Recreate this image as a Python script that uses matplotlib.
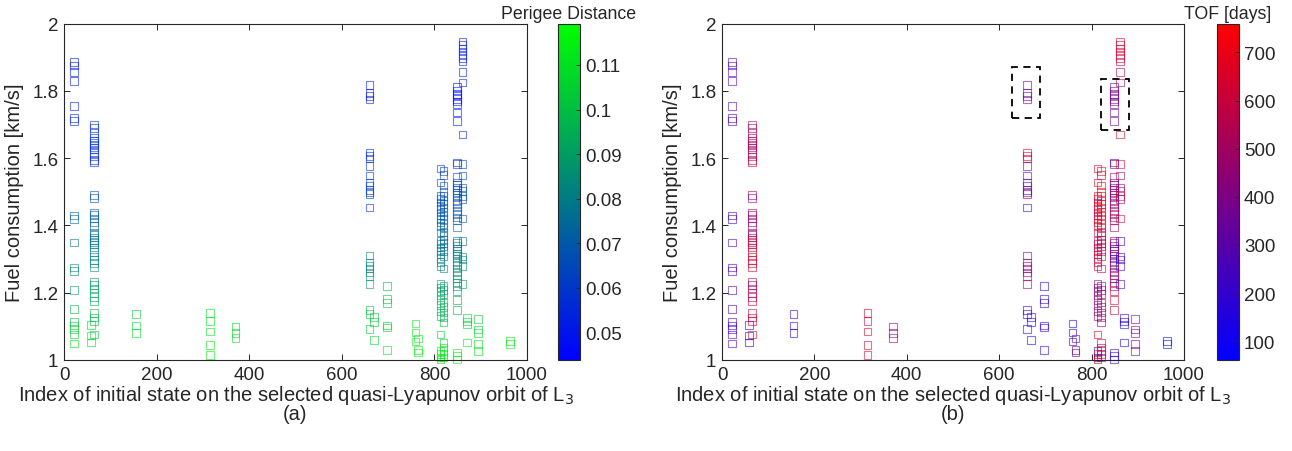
#!/usr/bin/env python3
"""Fuel consumption vs initial-state index, coloured by perigee distance (a) and TOF (b).

    python3 plot.py   ->  out.png
"""
import matplotlib
matplotlib.use("Agg")
import matplotlib.pyplot as plt
from matplotlib.cm import ScalarMappable
from matplotlib.colors import LinearSegmentedColormap, Normalize
from matplotlib.patches import Rectangle

# index of the initial state for each column of solutions
cols = [22, 58, 65, 155, 315, 370, 660, 669, 697, 759, 765,
        813, 820, 849, 861, 870, 894, 963]

# fuel consumption [km/s], one list per column
fuel_by_col = [
    [1.885, 1.875, 1.855, 1.830, 1.754, 1.720, 1.711, 1.429, 1.419, 1.349,
     1.275, 1.265, 1.208, 1.151, 1.113, 1.103, 1.093, 1.076, 1.049],
    [1.104, 1.073, 1.052],
    [1.700, 1.690, 1.675, 1.660, 1.652, 1.645, 1.640, 1.632, 1.625, 1.615,
     1.605, 1.595, 1.588, 1.490, 1.482, 1.438, 1.431, 1.421, 1.411, 1.399,
     1.379, 1.371, 1.364, 1.357, 1.351, 1.343, 1.334, 1.321, 1.308, 1.298,
     1.288, 1.275, 1.232, 1.222, 1.212, 1.200, 1.188, 1.176, 1.139, 1.126,
     1.116, 1.076],
    [1.136, 1.103, 1.081],
    [1.140, 1.115, 1.085, 1.045, 1.015],
    [1.100, 1.080, 1.065],
    [1.818, 1.794, 1.784, 1.774, 1.617, 1.607, 1.599, 1.577, 1.548, 1.528,
     1.518, 1.506, 1.500, 1.493, 1.453, 1.311, 1.290, 1.280, 1.272, 1.260,
     1.250, 1.225, 1.149, 1.136, 1.093],
    [1.128, 1.113, 1.060],
    [1.220, 1.181, 1.169, 1.103, 1.096, 1.029],
    [1.108, 1.082, 1.055],
    [1.064, 1.030, 1.022],
    [1.569, 1.528, 1.488, 1.478, 1.468, 1.458, 1.448, 1.438, 1.429, 1.419,
     1.409, 1.399, 1.379, 1.354, 1.344, 1.334, 1.324, 1.314, 1.304, 1.292,
     1.278, 1.225, 1.215, 1.205, 1.192, 1.179, 1.163, 1.146, 1.131, 1.076,
     1.027, 1.017, 1.007, 1.002],
    [1.562, 1.549, 1.518, 1.500, 1.488, 1.473, 1.463, 1.453, 1.440, 1.429,
     1.419, 1.404, 1.394, 1.379, 1.369, 1.357, 1.347, 1.337, 1.324, 1.307,
     1.272, 1.220, 1.208, 1.196, 1.171, 1.158, 1.141, 1.126, 1.111, 1.052,
     1.037, 1.027, 1.017, 1.007],
    [1.811, 1.801, 1.791, 1.786, 1.776, 1.768, 1.761, 1.736, 1.711,
     1.587, 1.582, 1.543, 1.528, 1.520, 1.513, 1.506, 1.498, 1.490, 1.483,
     1.473, 1.463, 1.453, 1.443, 1.434, 1.424, 1.414, 1.394,
     1.354, 1.347, 1.339, 1.331, 1.324, 1.317, 1.310, 1.302, 1.292, 1.282,
     1.272, 1.262, 1.252, 1.242, 1.230, 1.220, 1.205, 1.179, 1.149,
     1.022, 1.012, 1.002],
    [1.946, 1.936, 1.926, 1.917, 1.907, 1.897, 1.887, 1.855, 1.825, 1.670,
     1.582, 1.548, 1.513, 1.503, 1.488, 1.478, 1.421, 1.354, 1.307, 1.299,
     1.280, 1.225],
    [1.124, 1.114, 1.106, 1.052],
    [1.121, 1.091, 1.081, 1.047, 1.027],
    [1.057, 1.047],
]

# perigee distance, one list per column
perigee_by_col = [
    [0.050, 0.050, 0.051, 0.051, 0.052, 0.053, 0.053, 0.071, 0.072, 0.078,
     0.084, 0.085, 0.090, 0.097, 0.102, 0.103, 0.105, 0.107, 0.110],
    [0.105, 0.108, 0.110],
    [0.058, 0.057, 0.056, 0.058, 0.057, 0.058, 0.059, 0.058, 0.057, 0.056,
     0.056, 0.055, 0.055, 0.066, 0.066, 0.069, 0.069, 0.070, 0.071, 0.072,
     0.074, 0.075, 0.076, 0.077, 0.077, 0.078, 0.079, 0.080, 0.081, 0.082,
     0.083, 0.084, 0.088, 0.089, 0.090, 0.091, 0.092, 0.093, 0.097, 0.098,
     0.099, 0.104],
    [0.106, 0.108, 0.109],
    [0.110, 0.111, 0.112, 0.113, 0.114],
    [0.107, 0.108, 0.109],
    [0.050, 0.050, 0.051, 0.051, 0.055, 0.056, 0.056, 0.058, 0.059, 0.060,
     0.061, 0.062, 0.063, 0.064, 0.057, 0.079, 0.081, 0.082, 0.083, 0.084,
     0.085, 0.088, 0.100, 0.102, 0.104],
    [0.103, 0.104, 0.108],
    [0.096, 0.099, 0.100, 0.104, 0.105, 0.109],
    [0.112, 0.113, 0.114],
    [0.113, 0.114, 0.115],
    [0.060, 0.061, 0.063, 0.064, 0.065, 0.066, 0.067, 0.068, 0.068, 0.069,
     0.070, 0.071, 0.072, 0.074, 0.075, 0.076, 0.077, 0.078, 0.079, 0.080,
     0.081, 0.088, 0.089, 0.090, 0.091, 0.092, 0.093, 0.094, 0.095, 0.105,
     0.112, 0.113, 0.114, 0.115],
    [0.062, 0.063, 0.065, 0.066, 0.066, 0.067, 0.068, 0.069, 0.069, 0.070,
     0.071, 0.071, 0.072, 0.073, 0.074, 0.075, 0.076, 0.077, 0.078, 0.080,
     0.083, 0.089, 0.090, 0.091, 0.093, 0.094, 0.095, 0.096, 0.098, 0.107,
     0.110, 0.112, 0.113, 0.114],
    [0.047, 0.048, 0.046, 0.047, 0.046, 0.048, 0.049, 0.050, 0.051,
     0.060, 0.061, 0.063, 0.064, 0.064, 0.065, 0.065, 0.066, 0.066, 0.067,
     0.067, 0.068, 0.068, 0.069, 0.069, 0.070, 0.070, 0.072,
     0.077, 0.078, 0.078, 0.079, 0.079, 0.080, 0.080, 0.081, 0.082, 0.083,
     0.083, 0.084, 0.085, 0.086, 0.087, 0.088, 0.090, 0.092, 0.096,
     0.114, 0.115, 0.116],
    [0.050, 0.050, 0.051, 0.050, 0.051, 0.052, 0.052, 0.052, 0.053, 0.055,
     0.061, 0.063, 0.065, 0.066, 0.067, 0.067, 0.070, 0.078, 0.083, 0.084,
     0.085, 0.090],
    [0.104, 0.105, 0.106, 0.110],
    [0.106, 0.108, 0.109, 0.112, 0.113],
    [0.113, 0.114],
]

# time of flight [days], one list per column
tof_by_col = [
    [260, 250, 280, 250, 260, 250, 240, 230, 220, 250,
     240, 230, 270, 250, 230, 220, 240, 260, 250],
    [150, 170, 140],
    [520, 540, 500, 560, 540, 510, 530, 480, 520, 500,
     540, 560, 580, 470, 450, 480, 500, 460, 520, 450,
     450, 480, 430, 620, 600, 580, 640, 620, 650, 600,
     640, 630, 480, 520, 500, 540, 560, 600, 640, 630,
     650, 680],
    [170, 160, 180],
    [640, 620, 650, 630, 660],
    [430, 450, 420],
    [330, 320, 340, 330, 600, 620, 610, 280, 300, 260,
     250, 320, 500, 280, 260, 380, 420, 460, 440, 430,
     470, 480, 200, 180, 160],
    [170, 190, 150],
    [170, 180, 160, 190, 170, 180],
    [140, 150, 130],
    [380, 360, 350],
    [680, 700, 660, 700, 380, 720, 700, 680, 250, 720,
     700, 650, 600, 560, 540, 620, 580, 600, 650, 560,
     600, 420, 440, 400, 450, 430, 460, 420, 440, 720,
     200, 680, 220, 700],
    [650, 640, 680, 700, 660, 640, 700, 680, 690, 720,
     660, 600, 640, 560, 580, 540, 520, 560, 550, 540,
     560, 450, 440, 470, 460, 420, 480, 430, 440, 540,
     500, 560, 480, 450],
    [360, 380, 340, 400, 370, 350, 380, 340, 360,
     300, 320, 560, 420, 380, 450, 400, 520, 440, 380,
     460, 420, 480, 520, 500, 540, 460, 500,
     620, 380, 440, 480, 220, 500, 420, 200, 460, 380,
     520, 440, 480, 400, 560, 460, 600, 640, 620,
     180, 200, 160],
    [640, 620, 660, 600, 640, 620, 580, 520, 500, 620,
     680, 440, 540, 520, 640, 500, 650, 200, 210, 190,
     200, 220],
    [150, 160, 140, 150],
    [380, 420, 400, 360, 370],
    [120, 130],
]

# dashed boxes highlighted in panel (b): (x0, x1, y0, y1)
boxes = [(627, 689, 1.718, 1.870), (821, 882, 1.684, 1.835)]

index, fuel, perigee, tof = [], [], [], []
for c, f, p, t in zip(cols, fuel_by_col, perigee_by_col, tof_by_col):
    index += [c] * len(f)
    fuel += f
    perigee += p
    tof += t

plt.rcParams["font.family"] = ["Liberation Sans", "DejaVu Sans"]
plt.rcParams["text.color"] = "0.15"
plt.rcParams["axes.labelcolor"] = "0.15"
plt.rcParams["xtick.color"] = "0.15"
plt.rcParams["ytick.color"] = "0.15"

blue_green = LinearSegmentedColormap.from_list("bg", ["#0000ff", "#00ff00"])
blue_red = LinearSegmentedColormap.from_list("br", ["#0000ff", "#ff0000"])

fig = plt.figure(figsize=(12.92, 4.52), dpi=100)
W, H = 1292, 452
ax_a = fig.add_axes([64 / W, 1 - 361 / H, 463 / W, 336.5 / H])
cb_a = fig.add_axes([558 / W, 1 - 361 / H, 22 / W, 336.5 / H])
ax_b = fig.add_axes([722 / W, 1 - 361 / H, 462 / W, 336.5 / H])
cb_b = fig.add_axes([1217 / W, 1 - 361 / H, 22 / W, 336.5 / H])

panels = [
    (ax_a, cb_a, perigee, blue_green, (0.0438, 0.1193), [0.05, 0.06, 0.07, 0.08, 0.09, 0.1, 0.11],
     ["0.05", "0.06", "0.07", "0.08", "0.09", "0.1", "0.11"], "Perigee Distance", "(a)"),
    (ax_b, cb_b, tof, blue_red, (61, 760), [100, 200, 300, 400, 500, 600, 700],
     ["100", "200", "300", "400", "500", "600", "700"], "TOF [days]", "(b)"),
]

for ax, cax, cval, cmap, clim, cticks, clabels, ctitle, tag in panels:
    norm = Normalize(vmin=clim[0], vmax=clim[1])
    edge = cmap(norm(cval))
    ax.scatter(index, fuel, marker="s", s=30, facecolors="none",
               edgecolors=edge, linewidths=0.8, alpha=0.55, clip_on=False)
    ax.set_xlim(0, 1000)
    ax.set_ylim(1, 2)
    ax.set_xticks([0, 200, 400, 600, 800, 1000])
    ax.set_yticks([1, 1.2, 1.4, 1.6, 1.8, 2])
    ax.set_yticklabels(["1", "1.2", "1.4", "1.6", "1.8", "2"])
    ax.tick_params(direction="in", top=True, right=True, length=4,
                   width=0.7, labelsize=13.5, pad=4)
    for s in ax.spines.values():
        s.set_color("0.15")
        s.set_linewidth(0.8)
    ax.set_ylabel("Fuel consumption [km/s]", fontsize=14.5, labelpad=6)
    ax.set_xlabel("Index of initial state on the selected quasi-Lyapunov orbit of L$_3$",
                  fontsize=14.5, labelpad=0)
    ax.text(0.5, 1 - (415 - 24.5) / 336.5, tag, transform=ax.transAxes,
            ha="center", va="center", fontsize=14.5)

    sm = ScalarMappable(norm=norm, cmap=cmap)
    cb = fig.colorbar(sm, cax=cax)
    cb.set_ticks(cticks)
    cb.set_ticklabels(clabels)
    cax.tick_params(direction="in", length=3, width=0.7, labelsize=13.5)
    cb.outline.set_edgecolor("0.15")
    cb.outline.set_linewidth(0.8)
    cax.set_title(ctitle, fontsize=12.8, pad=4)

for x0, x1, y0, y1 in boxes:
    ax_b.add_patch(Rectangle((x0, y0), x1 - x0, y1 - y0, fill=False,
                             edgecolor="black", linestyle=(0, (4, 3)),
                             linewidth=1.3))

fig.savefig("out.png", dpi=100)
print("wrote out.png")
